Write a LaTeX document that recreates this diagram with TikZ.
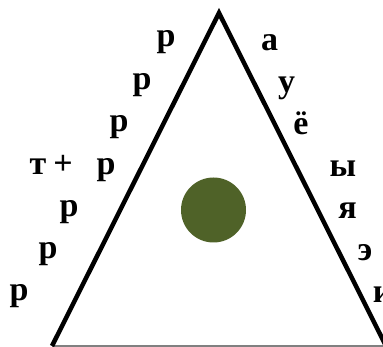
\documentclass[tikz,border=0pt]{standalone}
\usepackage{fontspec}
\setmainfont{Liberation Serif}
\definecolor{olivedark}{HTML}{4F6228}
\begin{document}
\begin{tikzpicture}[x=1pt,y=-1pt,
  ltr/.style={font=\fontsize{34}{34}\selectfont\bfseries, inner sep=0pt, anchor=base},
  side/.style={line width=4.5pt, line join=miter},
  basel/.style={line width=1.5pt, draw=gray}]
\useasboundingbox (0,0) rectangle (383,347);
\coordinate (A) at (219,13);
\coordinate (L) at (52,346);
\coordinate (R) at (386,346);
\draw[basel] (L) -- (R);
\draw[side] (L) -- (A) -- (R);
\node[circle, fill=olivedark, minimum size=65pt, inner sep=0pt] (dot) at (213.5,210) {};
% left side
\node[ltr] (l1) at (166,47) {р};
\node[ltr] (l2) at (142,89.5) {р};
\node[ltr] (l3) at (119,132) {р};
\node[ltr] (l4) at (106,175) {р};
\node[ltr] (l5) at (69,217) {р};
\node[ltr] (l6) at (48,259) {р};
\node[ltr] (l7) at (19,301) {р};
\node[ltr] (t) at (38,175) {т};
\node[ltr] (plus) at (63,175) {+};
% right side
\node[ltr] (r1) at (269.7,51) {а};
\node[ltr] (r2) at (286.5,93) {у};
\node[ltr] (r3) at (301,135) {ё};
\node[ltr] (r4) at (343,177) {ы};
\node[ltr] (r5) at (347.5,219) {я};
\node[ltr] (r6) at (365,261) {э};
\node[ltr, anchor=base west] (r7) at (372.7,303) {и};
\end{tikzpicture}
\end{document}
